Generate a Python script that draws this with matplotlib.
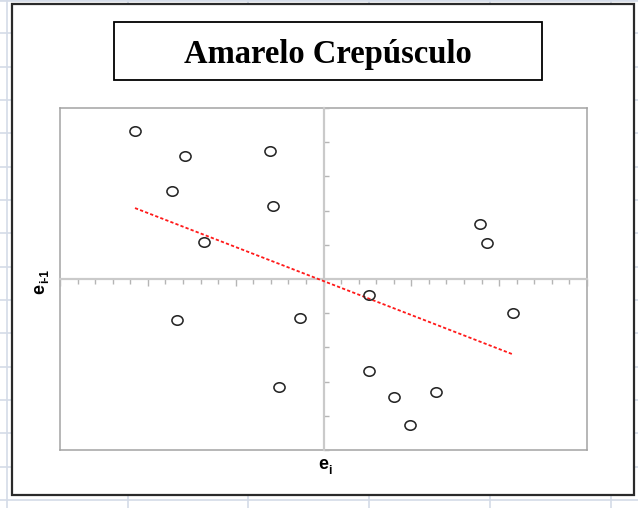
import numpy as np
import matplotlib.pyplot as plt
from matplotlib.patches import Rectangle
from matplotlib.path import Path
from matplotlib.ticker import MultipleLocator

# residuals e_i against lagged residuals e_(i-1)
e_i = [-10.73, -7.90, -3.03, -8.61, -2.89, -6.78, 8.92, 9.32, -8.34,
       -1.32, -2.52, 2.57, 10.79, 2.57, 4.01, 6.40, 4.91]
e_lag = [4.33, 3.61, 3.75, 2.58, 2.14, 1.07, 1.61, 1.06, -1.20,
         -1.14, -3.15, -0.47, -0.99, -2.68, -3.44, -3.30, -4.27]
title = "Amarelo Crepúsculo"

W, H = 638, 508
fig = plt.figure(figsize=(W / 100, H / 100), dpi=100)


def fx(x):
    return x / W


def fy(y):
    return 1 - y / H


# spreadsheet grid behind the chart object
bg = fig.add_axes([0, 0, 1, 1], zorder=-1)
bg.set_xlim(0, W)
bg.set_ylim(H, 0)
bg.axis("off")
grid_c = "#d4dbe8"
for gx in np.arange(7, W, 120.7):
    bg.axvline(gx, color=grid_c, lw=1.2)
for gy in np.arange(500, 0, -33.33):
    bg.axhline(gy, color=grid_c, lw=1.2)
bg.axhline(1, color=grid_c, lw=1.2)

# chart object and title box
bg.add_patch(Rectangle((12, 3.5), 622, 491.5, facecolor="white",
                       edgecolor="#2a2a2a", lw=1.6, zorder=2))
bg.add_patch(Rectangle((114, 22), 428, 58, facecolor="white",
                       edgecolor="black", lw=1.3, zorder=3))
fig.text(fx(327.5), fy(63), title, ha="center", va="baseline",
         fontsize=23.5, fontweight="bold", family="Liberation Serif")

rect = [fx(60), fy(450), fx(527), 342 / H]

# plot area frame
ax = fig.add_axes(rect)
ax.set_xlim(-15, 15)
ax.set_ylim(-5, 5)
ax.set_xticks([])
ax.set_yticks([])
for s in ax.spines.values():
    s.set_color("#a3a3a3")
    s.set_linewidth(1.1)

# axes crossing at zero, ticks without labels
ax2 = fig.add_axes(rect)
ax2.set_xlim(-15, 15)
ax2.set_ylim(-5, 5)
ax2.patch.set_visible(False)
for side in ("top", "right"):
    ax2.spines[side].set_visible(False)
for side in ("left", "bottom"):
    ax2.spines[side].set_position(("data", 0))
    ax2.spines[side].set_color("#cacaca")
    ax2.spines[side].set_linewidth(1.6)
ax2.xaxis.set_major_locator(MultipleLocator(5))
ax2.xaxis.set_minor_locator(MultipleLocator(1))
ax2.yaxis.set_major_locator(MultipleLocator(1))
ax2.tick_params(axis="x", which="major", direction="out", length=5,
                width=1, color="#b5b5b5", labelbottom=False)
ax2.tick_params(axis="x", which="minor", direction="out", length=3.5,
                width=1, color="#b5b5b5")
ax2.tick_params(axis="y", which="major", direction="in", length=3.5,
                width=1, color="#b5b5b5", labelleft=False)

# slightly flattened open circles
circ = Path.unit_circle()
ellipse = Path(circ.vertices * [1, 0.85], circ.codes)
ax2.plot(e_i, e_lag, ls="none", marker=ellipse, ms=8, mfc="none",
         mec="#262626", mew=1.15, zorder=5)

# least squares trend over the data range
b, a = np.polyfit(e_i, e_lag, 1)
xs = np.array([min(e_i), max(e_i)])
ax2.plot(xs, a + b * xs, color="#ff1a1a", lw=1.3, ls=(0, (1.8, 1.2)),
         zorder=4)

# axis labels with subscripts
lab = dict(fontweight="bold", family="Liberation Sans", color="black")
fig.text(fx(318), fy(469), "e", fontsize=13, ha="left", va="baseline", **lab)
fig.text(fx(328.5), fy(474.5), "i", fontsize=8.5, ha="left", va="baseline", **lab)
fig.text(fx(44), fy(294.5), "e", fontsize=13, rotation=90,
         rotation_mode="anchor", ha="left", va="baseline", **lab)
fig.text(fx(48), fy(283), "i-1", fontsize=8.5, rotation=90,
         rotation_mode="anchor", ha="left", va="baseline", **lab)

fig.savefig("out.png", dpi=100)
